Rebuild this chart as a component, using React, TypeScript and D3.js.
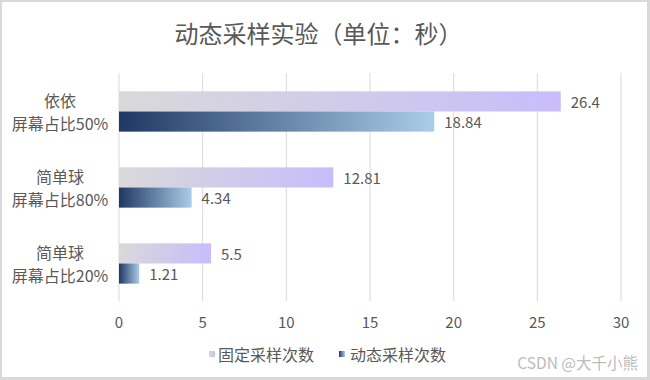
import React from "react";
import * as d3 from "d3";

const categories = ["依依\n屏幕占比50%", "简单球\n屏幕占比80%", "简单球\n屏幕占比20%"];
const fixedValues = [26.4, 12.81, 5.5];
const dynamicValues = [18.84, 4.34, 1.21];
const seriesNames = ["固定采样次数", "动态采样次数"];
const xTicks = [0, 5, 10, 15, 20, 25, 30];
const title = "动态采样实验（单位：秒）";
const watermark = "CSDN @大千小熊";

const W = 650;
const H = 380;
const FONT = "'Noto Sans CJK SC', 'Noto Sans', sans-serif";
const TXT = "#595959";

export default function App() {
  const x = d3.scaleLinear().domain([0, 30]).range([119, 621]);
  const y = d3
    .scaleBand<string>()
    .domain(categories)
    .range([73.5, 301.5])
    .paddingInner(0.47)
    .paddingOuter(0.235);
  const bw = y.bandwidth() / 2;

  return (
    <svg
      width={W}
      height={H}
      style={{ position: "absolute", left: 0, top: 0, display: "block" }}
      fontFamily={FONT}
    >
      <defs>
        <linearGradient id="gFixed" x1="0" y1="0" x2="1" y2="0">
          <stop offset="0" stopColor="#d9d9d9" />
          <stop offset="1" stopColor="#c8bdfb" />
        </linearGradient>
        <linearGradient id="gDyn" x1="0" y1="0" x2="1" y2="0">
          <stop offset="0" stopColor="#1f3864" />
          <stop offset="1" stopColor="#aacde9" />
        </linearGradient>
      </defs>
      <rect x={0} y={0} width={W} height={H} fill="#d9d9d9" />
      <rect x={2} y={2} width={645} height={375} fill="#ffffff" />

      <text
        x={318.5}
        y={32.5}
        textAnchor="middle"
        dominantBaseline="central"
        fontSize={24}
        fill={TXT}
      >
        {title}
      </text>

      {xTicks.map((t) => (
        <g key={t}>
          <line x1={x(t)} x2={x(t)} y1={73} y2={301} stroke="#d9d9d9" strokeWidth={1} />
          <text
            x={x(t)}
            y={321}
            textAnchor="middle"
            dominantBaseline="central"
            fontSize={15}
            fill={TXT}
          >
            {t}
          </text>
        </g>
      ))}

      {categories.map((c, i) => {
        const y0 = y(c)!;
        const lines = c.split("\n");
        return (
          <g key={c}>
            <rect
              x={x(0)}
              y={y0}
              width={x(fixedValues[i]) - x(0)}
              height={bw}
              fill="url(#gFixed)"
            />
            <rect
              x={x(0)}
              y={y0 + bw}
              width={x(dynamicValues[i]) - x(0)}
              height={bw}
              fill="url(#gDyn)"
            />
            <text
              x={x(fixedValues[i]) + 10}
              y={y0 + bw / 2}
              dominantBaseline="central"
              fontSize={15}
              fill={TXT}
            >
              {fixedValues[i]}
            </text>
            <text
              x={x(dynamicValues[i]) + 10}
              y={y0 + bw * 1.5}
              dominantBaseline="central"
              fontSize={15}
              fill={TXT}
            >
              {dynamicValues[i]}
            </text>
            {lines.map((l, k) => (
              <text
                key={k}
                x={60}
                y={y0 + bw + (k === 0 ? -11.5 : 11.5)}
                textAnchor="middle"
                dominantBaseline="central"
                fontSize={16}
                fill={TXT}
              >
                {l}
              </text>
            ))}
          </g>
        );
      })}

      <g>
        <rect x={209} y={351} width={6} height={6} fill="url(#gFixed)" />
        <text x={218} y={354} dominantBaseline="central" fontSize={16} fill={TXT}>
          {seriesNames[0]}
        </text>
        <rect x={339} y={351} width={6} height={6} fill="url(#gDyn)" />
        <text x={350} y={354} dominantBaseline="central" fontSize={16} fill={TXT}>
          {seriesNames[1]}
        </text>
      </g>

      <text
        x={638}
        y={362}
        textAnchor="end"
        dominantBaseline="central"
        fontSize={15.5}
        fill="#bcbcbc"
      >
        {watermark}
      </text>
    </svg>
  );
}
